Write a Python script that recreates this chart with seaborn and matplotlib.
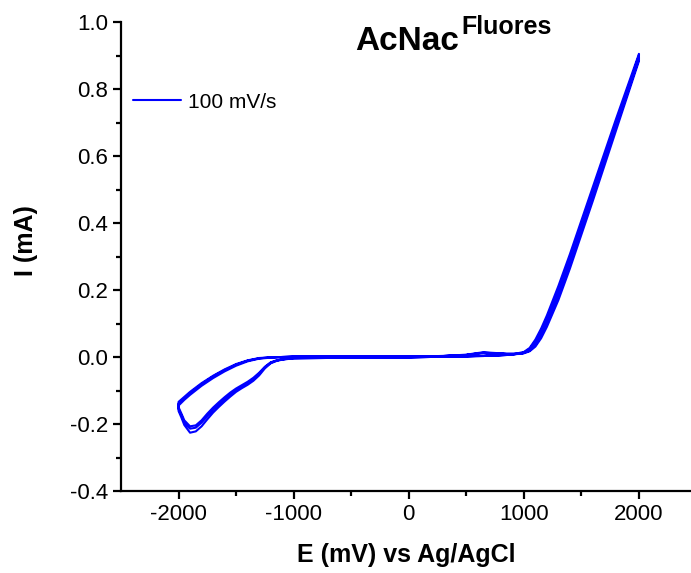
import pandas as pd
import matplotlib
matplotlib.use("Agg")
import matplotlib.pyplot as plt
import seaborn as sns

# potential grids (mV) for the anodic (up) and cathodic (down) sweeps
E_up = [-2000, -1950, -1900, -1800, -1700, -1600, -1500, -1400, -1300, -1200,
        -1100, -1000, -500, 0, 300, 500, 600, 650, 750, 850,
        950, 1000, 1050, 1100, 1150, 1200, 1300, 1400, 1600, 1800, 2000]
E_down = [2000, 1800, 1600, 1400, 1300, 1200, 1150, 1100, 1050, 1000,
          900, 800, 650, 500, 0, -500, -1000, -1100, -1150, -1200,
          -1250, -1300, -1350, -1400, -1450, -1500, -1550, -1600, -1650, -1700,
          -1750, -1800, -1850, -1900, -1950, -1975, -2000]

# current (mA), three cycles
I_up_1 = [-0.145, -0.128, -0.113, -0.086, -0.063, -0.043, -0.026, -0.013, -0.005, -0.002,
          0.000, 0.001, 0.002, 0.002, 0.003, 0.007, 0.012, 0.014, 0.012, 0.010,
          0.010, 0.013, 0.022, 0.042, 0.074, 0.113, 0.197, 0.293, 0.494, 0.697, 0.900]
I_up_2 = [-0.139, -0.123, -0.108, -0.081, -0.058, -0.039, -0.023, -0.011, -0.004, -0.001,
          0.000, 0.001, 0.002, 0.002, 0.003, 0.006, 0.011, 0.013, 0.011, 0.009,
          0.009, 0.012, 0.019, 0.035, 0.063, 0.099, 0.181, 0.276, 0.478, 0.684, 0.890]
I_up_3 = [-0.134, -0.119, -0.104, -0.078, -0.056, -0.037, -0.021, -0.010, -0.003, -0.001,
          0.000, 0.001, 0.001, 0.002, 0.003, 0.006, 0.010, 0.012, 0.010, 0.009,
          0.009, 0.011, 0.017, 0.031, 0.056, 0.090, 0.170, 0.264, 0.467, 0.676, 0.884]

I_down_1 = [0.905, 0.710, 0.508, 0.307, 0.212, 0.124, 0.085, 0.052, 0.027, 0.015,
            0.008, 0.006, 0.004, 0.002, -0.001, -0.002, -0.004, -0.008, -0.012, -0.019,
            -0.034, -0.055, -0.071, -0.083, -0.093, -0.104, -0.118, -0.133, -0.149, -0.166,
            -0.186, -0.207, -0.222, -0.226, -0.203, -0.181, -0.161]
I_down_2 = [0.896, 0.700, 0.498, 0.297, 0.202, 0.116, 0.078, 0.047, 0.024, 0.013,
            0.007, 0.005, 0.003, 0.002, -0.001, -0.002, -0.004, -0.007, -0.011, -0.017,
            -0.031, -0.050, -0.066, -0.078, -0.088, -0.098, -0.111, -0.126, -0.141, -0.157,
            -0.176, -0.196, -0.211, -0.214, -0.195, -0.174, -0.155]
I_down_3 = [0.888, 0.691, 0.489, 0.288, 0.194, 0.109, 0.073, 0.044, 0.022, 0.012,
            0.007, 0.005, 0.003, 0.002, -0.001, -0.002, -0.003, -0.007, -0.010, -0.016,
            -0.029, -0.047, -0.062, -0.074, -0.084, -0.094, -0.106, -0.120, -0.135, -0.151,
            -0.169, -0.189, -0.204, -0.207, -0.189, -0.169, -0.150]

# build one continuous trace in scan order
E_all, I_all = [], []
for up, down in [(I_up_1, I_down_1), (I_up_2, I_down_2), (I_up_3, I_down_3)]:
    E_all += E_up + E_down
    I_all += up + down
df = pd.DataFrame({"E": E_all, "I": I_all})

sns.set_theme(style="white")
plt.rcParams["font.family"] = ["Liberation Sans", "DejaVu Sans"]
plt.rcParams["axes.unicode_minus"] = False
plt.rcParams["text.color"] = "black"
plt.rcParams["axes.labelcolor"] = "black"

fig = plt.figure(figsize=(6.91, 5.73), dpi=100)
ax = fig.add_axes([121 / 691, 1 - 491 / 573, 570 / 691, 469 / 573])

sns.lineplot(data=df, x="E", y="I", sort=False, estimator=None,
             color="#0000ff", linewidth=1.5, label="100 mV/s", ax=ax)

ax.set_xlim(-2500, 2452)
ax.set_ylim(-0.4, 1.0)
ax.set_xticks([-2000, -1000, 0, 1000, 2000])
ax.set_xticks([-1500, -500, 500, 1500], minor=True)
ax.set_yticks([-0.4, -0.2, 0.0, 0.2, 0.4, 0.6, 0.8, 1.0])
ax.set_yticks([-0.3, -0.1, 0.1, 0.3, 0.5, 0.7, 0.9], minor=True)
ax.set_yticklabels([f"{v:.1f}" for v in [-0.4, -0.2, 0.0, 0.2, 0.4, 0.6, 0.8, 1.0]])

for s in ["top", "right"]:
    ax.spines[s].set_visible(False)
for s in ["left", "bottom"]:
    ax.spines[s].set_linewidth(1.6)
    ax.spines[s].set_color("black")
ax.tick_params(which="major", direction="out", length=6, width=1.6,
               labelsize=16, colors="black", left=True, bottom=True)
ax.tick_params(which="minor", direction="out", length=3.5, width=1.6,
               colors="black", left=True, bottom=True)

ax.set_xlabel("E (mV) vs Ag/AgCl", fontsize=18, fontweight="bold", color="black")
ax.set_ylabel("I (mA)", fontsize=18, fontweight="bold", color="black")
ax.xaxis.set_label_coords(0.5, -0.11)
ax.yaxis.set_label_coords(-0.145, 0.535)

leg = ax.legend(loc="center left", bbox_to_anchor=(12 / 570, 0.829), frameon=False,
                fontsize=15, handlelength=2.3, handletextpad=0.35,
                borderpad=0, borderaxespad=0)
for t in leg.get_texts():
    t.set_color("black")

fig.text(355 / 691, 1 - 50 / 573, "AcNac", fontsize=24, fontweight="bold",
         color="black", ha="left", va="baseline")
fig.text(461 / 691, 1 - 34 / 573, "Fluores", fontsize=18, fontweight="bold",
         color="black", ha="left", va="baseline")

fig.savefig("out.png", dpi=100)
